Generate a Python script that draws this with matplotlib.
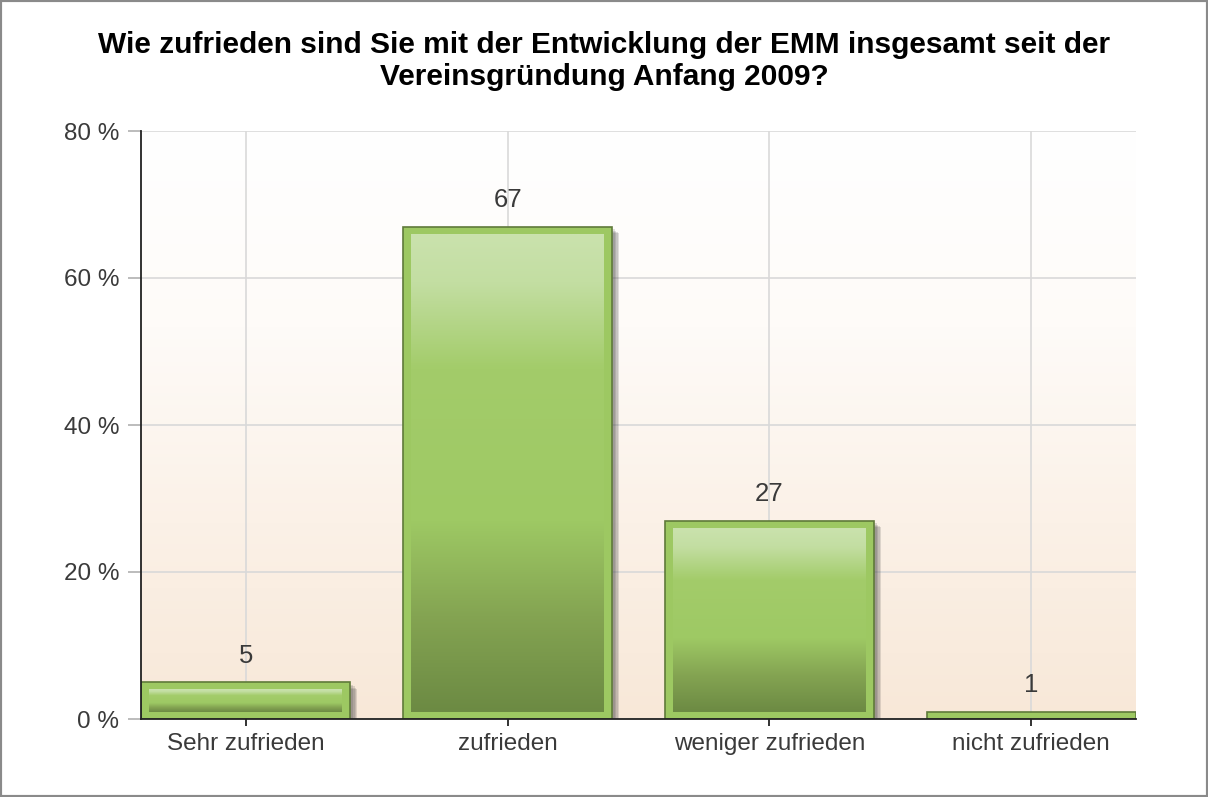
import numpy as np
import matplotlib
matplotlib.use("Agg")
import matplotlib.pyplot as plt
from matplotlib.colors import LinearSegmentedColormap
from matplotlib.patches import Rectangle
import matplotlib.patheffects as pe

plt.rcParams['font.family'] = ['Liberation Sans', 'DejaVu Sans']

title_lines = ["Wie zufrieden sind Sie mit der Entwicklung der EMM insgesamt seit der",
               "Vereinsgründung Anfang 2009?"]
categories = ["Sehr zufrieden", "zufrieden", "weniger zufrieden", "nicht zufrieden"]
values = [5, 67, 27, 1]
y_ticks = [0, 20, 40, 60, 80]
y_tick_labels = ["0 %", "20 %", "40 %", "60 %", "80 %"]

fig = plt.figure(figsize=(12.08, 7.97), dpi=100)
ax = fig.add_axes([141/1208, 1-719/797, (1136-141)/1208, (719-131)/797])

# background gradient
bg = LinearSegmentedColormap.from_list("bg", ["#f8e8d8", "#fbf1e7", "#fefbf8", "#ffffff"])
grad = np.linspace(0, 1, 256).reshape(-1, 1)
ax.imshow(grad, cmap=bg, origin="lower", aspect="auto", extent=(0, 1, 0, 1),
          transform=ax.transAxes, zorder=0)
ax.patch.set_visible(False)

x = np.arange(len(categories))
width = 0.8
bars = ax.bar(x, values, width=width, color="#9dc862", edgecolor="#5f7a3a",
              linewidth=1.2, zorder=2)
shadow = [pe.SimplePatchShadow(offset=(o, -o), shadow_rgbFace="#444444", alpha=0.16)
          for o in (2, 3, 4, 5)]
for b in bars:
    b.set_path_effects(shadow + [pe.Normal()])

# inner gradient
inner = LinearSegmentedColormap.from_list(
    "inner", [(0.0, "#6c8a43"), (0.2, "#84a452"), (0.4, "#9ec964"),
              (0.72, "#a3cc6a"), (0.9, "#c3dea2"), (1.0, "#cae2ad")])
ix = 0.032
iy = 1.0
for xi, v in zip(x, values):
    if v > 2 * iy + 0.5:
        ax.imshow(grad, cmap=inner, origin="lower", aspect="auto",
                  extent=(xi - width/2 + ix, xi + width/2 - ix, iy, v - iy), zorder=3)
    ax.annotate(f"{v}", (xi, v), xytext=(0, 19), textcoords="offset points",
                ha="center", va="center", fontsize=18.5, color="#3a3a3a", zorder=5)

ax.set_xlim(-0.4, len(categories) - 0.6)
ax.set_ylim(0, 80)
ax.set_yticks(y_ticks)
ax.set_yticklabels(y_tick_labels)
ax.set_xticks(x)
ax.set_xticklabels(categories)

ax.set_axisbelow(True)
ax.grid(True, color="#d9d9d9", linewidth=1.2)
for s in ["top", "right"]:
    ax.spines[s].set_visible(False)
for s in ["left", "bottom"]:
    ax.spines[s].set_color("#222222")
    ax.spines[s].set_linewidth(1.3)
    ax.spines[s].set_zorder(6)

ax.tick_params(axis="y", length=9.5, width=1.2, color="#b0b0b0", pad=6,
               labelsize=17.5, labelcolor="#3a3a3a")
ax.tick_params(axis="x", length=5, width=1.3, color="#222222", pad=5,
               labelsize=17.5, labelcolor="#3a3a3a")

fig.text(0.5, 1 - 45/797, title_lines[0], ha="center", va="center", fontsize=21.5,
         fontweight="bold", color="#000000")
fig.text(0.5, 1 - 77/797, title_lines[1], ha="center", va="center", fontsize=21.5,
         fontweight="bold", color="#000000")

fig.patches.append(Rectangle((0, 0), 1, 1, transform=fig.transFigure, fill=False,
                             edgecolor="#8a8a8a", linewidth=3))

fig.savefig("out.png", dpi=100)
